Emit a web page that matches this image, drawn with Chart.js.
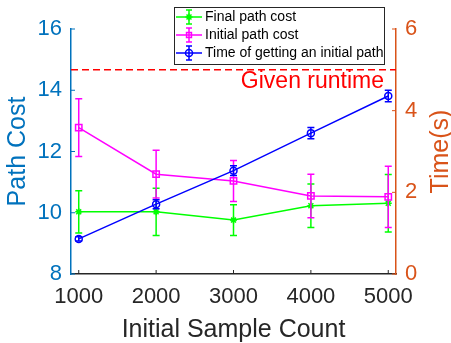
<!DOCTYPE html>
<html>
<head>
<meta charset="utf-8">
<script src="https://cdn.jsdelivr.net/npm/chart.js"></script>
<style>
  html, body { margin: 0; padding: 0; background: #fff; }
  #wrap { width: 451px; height: 343px; }
</style>
</head>
<body>
<div id="wrap"><canvas id="c" width="451" height="343"></canvas></div>
<script>
// data
const sampleCounts = [1000, 2000, 3000, 4000, 5000];
const finalCost = [10.03, 10.03, 9.76, 10.23, 10.31];
const finalErr = [0.69, 0.77, 0.5, 0.71, 0.94];
const initialCost = [12.78, 11.26, 11.04, 10.55, 10.52];
const initialErr = [0.94, 0.78, 0.67, 0.71, 1.0];
const initTime = [0.86, 1.71, 2.53, 3.45, 4.36];
const initTimeErr = [0.05, 0.11, 0.12, 0.14, 0.14];
const givenRuntime = 5;
const xTickLabels = [1000, 2000, 3000, 4000, 5000];
const seriesNames = ['Final path cost', 'Initial path cost', 'Time of getting an initial path'];

const FONT = "'Liberation Sans', Arial, Helvetica, sans-serif";
const LEFT_C = 'rgb(0,114,189)';
const RIGHT_C = 'rgb(217,83,25)';
const AX_C = 'rgb(38,38,38)';

function pts(ys){ return sampleCounts.map((x, i) => ({x: x, y: ys[i]})); }

function marker(ctx, style, x, y, r, color){
  ctx.save();
  ctx.strokeStyle = color; ctx.fillStyle = color; ctx.lineWidth = 1.5;
  ctx.beginPath();
  if(style === 'star'){
    for(let a = 0; a < 4; a++){
      const t = a * Math.PI / 4;
      ctx.moveTo(x - Math.cos(t)*r, y - Math.sin(t)*r);
      ctx.lineTo(x + Math.cos(t)*r, y + Math.sin(t)*r);
    }
  } else if(style === 'rect'){
    ctx.rect(x - r*0.7, y - r*0.7, r*1.4, r*1.4);
  } else {
    ctx.arc(x, y, r, 0, Math.PI*2);
  }
  ctx.stroke();
  ctx.restore();
}

// error bars, drawn right after each dataset so stacking follows the data order
const errorBars = {
  id: 'errorBars',
  afterDatasetDraw(chart, args){
    const ds = chart.data.datasets[args.index];
    if(!ds.err) return;
    const ctx = chart.ctx;
    const xs = chart.scales.x, ys = chart.scales[ds.yAxisID];
    ctx.save();
    ctx.strokeStyle = ds.borderColor; ctx.lineWidth = 1.5;
    ds.data.forEach((p, i) => {
      const px = xs.getPixelForValue(p.x);
      const top = ys.getPixelForValue(p.y + ds.err[i]);
      const bot = ys.getPixelForValue(p.y - ds.err[i]);
      ctx.beginPath();
      ctx.moveTo(px, top); ctx.lineTo(px, bot);
      ctx.moveTo(px - 3.5, top); ctx.lineTo(px + 3.5, top);
      ctx.moveTo(px - 3.5, bot); ctx.lineTo(px + 3.5, bot);
      ctx.stroke();
    });
    ctx.restore();
  }
};

// inward ticks, runtime line, right title, boxed legend
const decor = {
  id: 'decor',
  afterDraw(chart){
    const ctx = chart.ctx, a = chart.chartArea;
    const {x, y, y1} = chart.scales;
    ctx.save();
    ctx.lineWidth = 1;
    ctx.strokeStyle = AX_C;
    x.ticks.forEach(t => { const px = x.getPixelForValue(t.value); ctx.beginPath(); ctx.moveTo(px, a.bottom); ctx.lineTo(px, a.bottom - 4); ctx.stroke(); });
    ctx.strokeStyle = LEFT_C;
    y.ticks.forEach(t => { const py = y.getPixelForValue(t.value); ctx.beginPath(); ctx.moveTo(a.left, py); ctx.lineTo(a.left + 4, py); ctx.stroke(); });
    ctx.strokeStyle = RIGHT_C;
    y1.ticks.forEach(t => { const py = y1.getPixelForValue(t.value); ctx.beginPath(); ctx.moveTo(a.right, py); ctx.lineTo(a.right - 4, py); ctx.stroke(); });

    // given runtime
    const ry = y1.getPixelForValue(givenRuntime);
    ctx.strokeStyle = 'rgb(255,0,0)'; ctx.lineWidth = 1.5;
    ctx.setLineDash([7, 4]);
    ctx.beginPath(); ctx.moveTo(a.left, ry); ctx.lineTo(a.right, ry); ctx.stroke();
    ctx.setLineDash([]);
    ctx.fillStyle = 'rgb(255,0,0)';
    ctx.font = '23px ' + FONT;
    ctx.textAlign = 'right'; ctx.textBaseline = 'alphabetic';
    ctx.fillText('Given runtime', a.right - 12, ry + 18);

    // right axis title, reading bottom to top like the left one
    ctx.save();
    ctx.translate(441, (a.top + a.bottom) / 2);
    ctx.rotate(-Math.PI / 2);
    ctx.fillStyle = RIGHT_C;
    ctx.font = '25px ' + FONT;
    ctx.textAlign = 'center'; ctx.textBaseline = 'middle';
    ctx.fillText('Time(s)', 0, 0);
    ctx.restore();

    // legend
    const lx = 174, ly = 7, lw = 210, lh = 57;
    ctx.fillStyle = '#fff';
    ctx.fillRect(lx, ly, lw, lh);
    ctx.strokeStyle = AX_C; ctx.lineWidth = 1;
    ctx.strokeRect(lx + 0.5, ly + 0.5, lw, lh);
    ctx.font = '14px ' + FONT;
    ctx.textAlign = 'left'; ctx.textBaseline = 'middle';
    chart.data.datasets.forEach((ds, i) => {
      const cy = 17 + i * 18;
      ctx.strokeStyle = ds.borderColor; ctx.lineWidth = 1.5;
      ctx.beginPath();
      ctx.moveTo(176, cy); ctx.lineTo(202, cy);
      ctx.moveTo(189, cy - 7); ctx.lineTo(189, cy + 7);
      ctx.moveTo(186, cy - 7); ctx.lineTo(192, cy - 7);
      ctx.moveTo(186, cy + 7); ctx.lineTo(192, cy + 7);
      ctx.stroke();
      marker(ctx, ds.pointStyle, 189, cy, 3.5, ds.borderColor);
      ctx.fillStyle = '#000';
      ctx.fillText(ds.label, 205, cy);
    });
    ctx.restore();
  }
};

new Chart(document.getElementById('c'), {
  type: 'line',
  data: {
    datasets: [
      { label: seriesNames[0], data: pts(finalCost), err: finalErr, yAxisID: 'y', order: 3,
        borderColor: 'rgb(0,255,0)', backgroundColor: 'rgb(0,255,0)', borderWidth: 1.5,
        pointStyle: 'star', pointRadius: 3.5, pointBorderWidth: 1.5 },
      { label: seriesNames[1], data: pts(initialCost), err: initialErr, yAxisID: 'y', order: 2,
        borderColor: 'rgb(255,0,255)', backgroundColor: 'rgba(0,0,0,0)', borderWidth: 1.5,
        pointStyle: 'rect', pointRadius: 4.5, pointBorderWidth: 1.5 },
      { label: seriesNames[2], data: pts(initTime), err: initTimeErr, yAxisID: 'y1', order: 1,
        borderColor: 'rgb(0,0,255)', backgroundColor: 'rgba(0,0,0,0)', borderWidth: 1.5,
        pointStyle: 'circle', pointRadius: 3.5, pointBorderWidth: 1.5 }
    ]
  },
  options: {
    responsive: false, animation: false, devicePixelRatio: 1,
    layout: { padding: { top: 29, left: 0, right: 0, bottom: 0 } },
    plugins: { legend: { display: false }, tooltip: { enabled: false } },
    scales: {
      x: {
        type: 'linear', position: 'bottom', min: 900, max: 5100,
        afterBuildTicks: s => { s.ticks = xTickLabels.map(v => ({value: v})); },
        afterFit: s => { s.height = 69; },
        grid: { display: false, drawTicks: false },
        border: { display: true, color: AX_C, width: 1.5 },
        ticks: { color: AX_C, font: { family: FONT, size: 22 }, padding: 10, maxRotation: 0, callback: v => String(v) },
        title: { display: true, text: 'Initial Sample Count', color: AX_C, font: { family: FONT, size: 25, lineHeight: 1 }, padding: 0 }
      },
      y: {
        type: 'linear', position: 'left', min: 8, max: 16,
        afterFit: s => { s.width = 71; },
        grid: { display: false, drawTicks: false },
        border: { display: true, color: LEFT_C, width: 1.5 },
        ticks: { stepSize: 2, color: LEFT_C, font: { family: FONT, size: 22 }, padding: 9 },
        title: { display: true, text: 'Path Cost', color: LEFT_C, font: { family: FONT, size: 25, lineHeight: 1 }, padding: { top: 6, bottom: 0 } }
      },
      y1: {
        type: 'linear', position: 'right', min: 0, max: 6,
        afterFit: s => { s.width = 55; },
        grid: { display: false, drawTicks: false },
        border: { display: true, color: RIGHT_C, width: 1.5 },
        ticks: { stepSize: 2, color: RIGHT_C, font: { family: FONT, size: 22 }, padding: 9 }
      }
    }
  },
  plugins: [errorBars, decor]
});
</script>
</body>
</html>
